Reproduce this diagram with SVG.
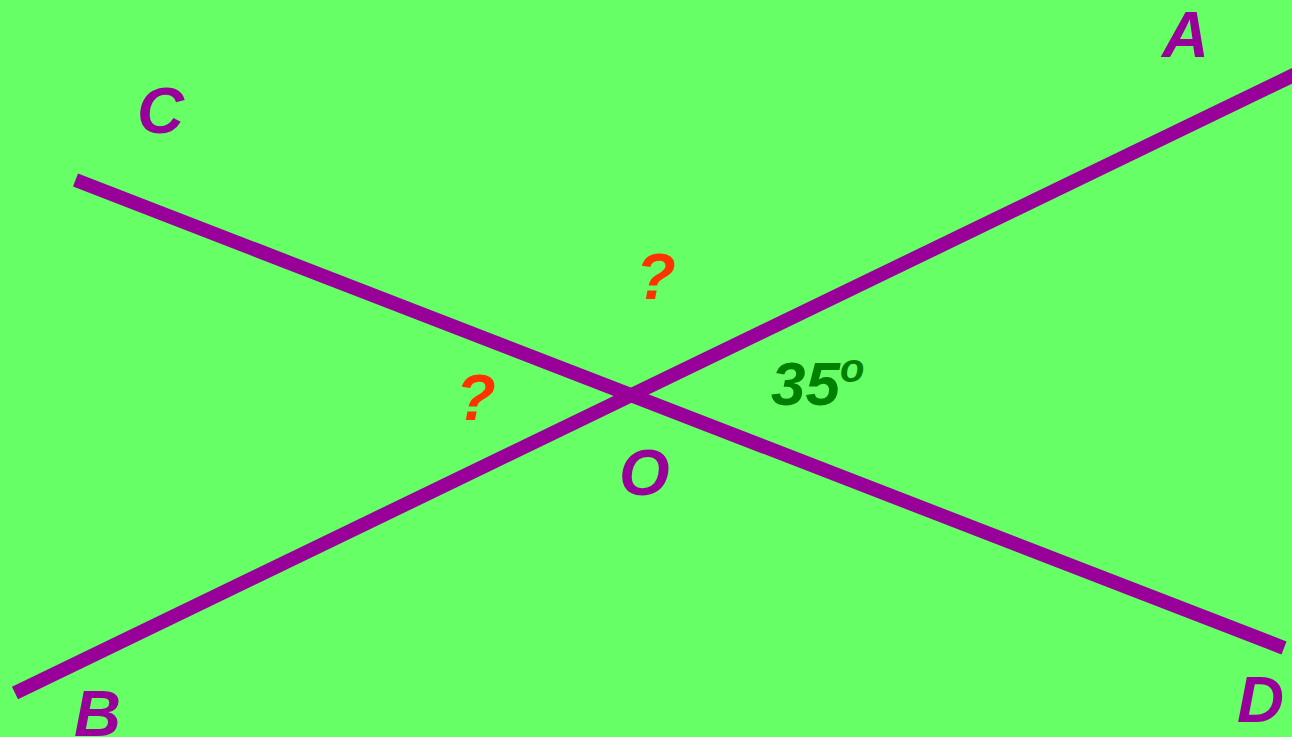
<svg xmlns="http://www.w3.org/2000/svg" width="1292" height="737" viewBox="0 0 1292 737">
<style>
.ln{stroke:#990099;stroke-width:14;fill:none}
text{font-family:"Liberation Sans",Arial,sans-serif;font-weight:bold;font-style:italic;font-size:65px}
.lbl{fill:#990099}
.q{fill:#FF3300}
.ang{fill:#008000;font-size:62px}
</style>
<rect x="0" y="0" width="1292" height="737" fill="#66FF66"/>
<g id="connectors">
<line class="ln" x1="15" y1="693" x2="1300" y2="72"/>
<line class="ln" x1="75.5" y1="180" x2="1284" y2="648"/>
</g>
<g id="A"><text class="lbl" x="1162" y="57">A</text></g>
<g id="C"><text class="lbl" x="137" y="133">C</text></g>
<g id="B"><text class="lbl" x="74" y="736">B</text></g>
<g id="D"><text class="lbl" x="1237" y="722">D</text></g>
<g id="O"><text class="lbl" x="619" y="495">O</text></g>
<g id="q1"><text class="q" x="636" y="299">?</text></g>
<g id="q2"><text class="q" x="456" y="420">?</text></g>
<g id="angle"><text class="ang" x="771" y="405">35<tspan font-size="40" dy="-23">o</tspan></text></g>
</svg>
